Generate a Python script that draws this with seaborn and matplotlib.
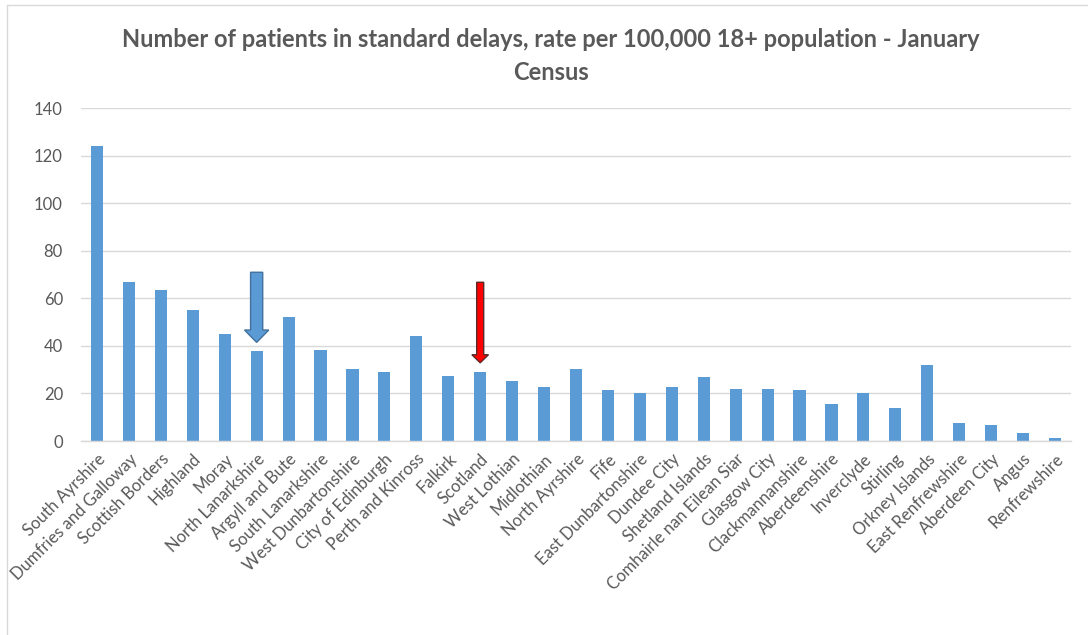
import matplotlib
matplotlib.use("Agg")
import matplotlib.pyplot as plt
import seaborn as sns
import pandas as pd
from matplotlib.lines import Line2D

areas = ["South Ayrshire", "Dumfries and Galloway", "Scottish Borders", "Highland", "Moray",
         "North Lanarkshire", "Argyll and Bute", "South Lanarkshire", "West Dunbartonshire",
         "City of Edinburgh", "Perth and Kinross", "Falkirk", "Scotland", "West Lothian",
         "Midlothian", "North Ayrshire", "Fife", "East Dunbartonshire", "Dundee City",
         "Shetland Islands", "Comhairle nan Eilean Siar", "Glasgow City", "Clackmannanshire",
         "Aberdeenshire", "Inverclyde", "Stirling", "Orkney Islands", "East Renfrewshire",
         "Aberdeen City", "Angus", "Renfrewshire"]
rates = [124.0, 66.8, 63.6, 55.1, 45.1, 37.8, 52.3, 38.4, 30.5, 29.1, 44.3, 27.2, 29.1, 25.2,
         22.6, 30.5, 21.3, 20.0, 22.6, 26.8, 22.0, 22.0, 21.3, 15.4, 20.0, 14.0, 31.8, 7.4,
         6.7, 3.5, 1.4]
yticks = [0, 20, 40, 60, 80, 100, 120, 140]
title = "Number of patients in standard delays, rate per 100,000 18+ population - January\nCensus"

sns.set_style("white")
plt.rcParams['font.family'] = ['Lato', 'DejaVu Sans']

df = pd.DataFrame({"area": areas, "rate": rates})

fig = plt.figure(figsize=(10.88, 6.35), dpi=100)
ax = fig.add_axes([81 / 1088, 1 - 441 / 635, (1071 - 81) / 1088, (441 - 108.3) / 635])

sns.barplot(data=df, x="area", y="rate", color="#5b9bd5", saturation=1, width=0.38, ax=ax,
            edgecolor="none")

ax.set_ylim(0, 140)
ax.set_xlim(-0.5, len(areas) - 0.5)
ax.set_yticks(yticks)
ax.set_yticklabels([str(t) for t in yticks], fontsize=12, color="#595959")
ax.set_xticks(range(len(areas)))
ax.set_xticklabels(areas, rotation=45, ha="right", rotation_mode="anchor",
                   fontsize=12, color="#595959")
ax.tick_params(axis="both", length=0, pad=7)
ax.tick_params(axis="y", pad=13)
ax.set_xlabel("")
ax.set_ylabel("")
ax.yaxis.grid(True, color="#d9d9d9", linewidth=1)
ax.set_axisbelow(True)
for s in ["top", "right", "left"]:
    ax.spines[s].set_visible(False)
ax.spines["bottom"].set_color("#d9d9d9")
ax.spines["bottom"].set_linewidth(1)

# annotation arrows
i_nl = areas.index("North Lanarkshire")
ax.arrow(i_nl, rates[i_nl] + 33.2, 0, -29.5, width=0.38, head_width=0.76,
         head_length=5.2, length_includes_head=True, facecolor="#5b9bd5",
         edgecolor="#41719c", linewidth=1, zorder=5)
i_sc = areas.index("Scotland")
ax.arrow(i_sc, rates[i_sc] + 37.7, 0, -33.9, width=0.22, head_width=0.52,
         head_length=3.4, length_includes_head=True, facecolor="#ff0000",
         edgecolor="#5a2a2a", linewidth=1, zorder=5)

fig.text(551 / 1088, 1 - 28 / 635, title, ha="center", va="top", fontsize=17,
         fontweight="bold", color="#595959", linespacing=1.55)

# chart frame (visible left and top edges)
fig.add_artist(Line2D([7 / 1088, 7 / 1088], [0, 1 - 5 / 635], transform=fig.transFigure,
                      color="#d9d9d9", linewidth=1))
fig.add_artist(Line2D([7 / 1088, 1], [1 - 5 / 635, 1 - 5 / 635], transform=fig.transFigure,
                      color="#d9d9d9", linewidth=1))

fig.savefig("out.png", dpi=100, facecolor="white")
